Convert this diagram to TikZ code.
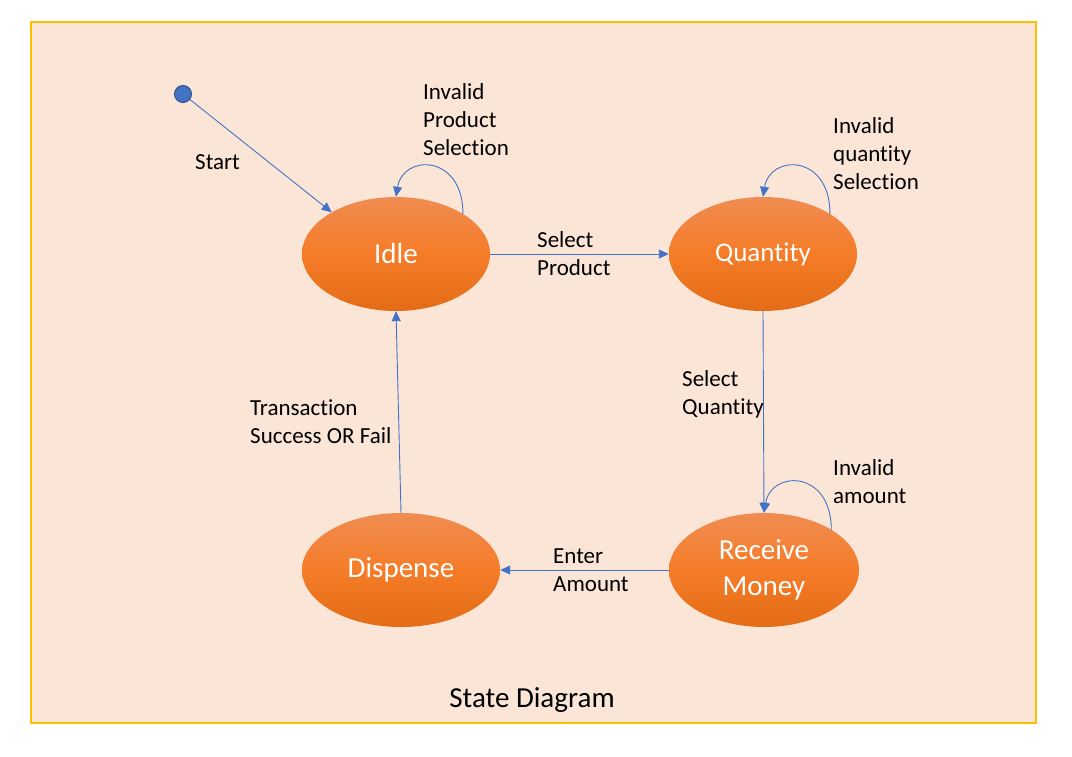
\documentclass[tikz,border=0pt]{standalone}
\usepackage{fontspec}
\setmainfont{Carlito}[Ligatures={NoCommon,NoDiscretionary,NoContextual}]
\usetikzlibrary{arrows.meta,shapes.geometric}
\definecolor{bgpeach}{RGB}{251,229,214}
\definecolor{framegold}{RGB}{255,192,0}
\definecolor{arrowblue}{RGB}{68,114,196}
\definecolor{darkblue}{RGB}{47,82,143}
\definecolor{ortop}{RGB}{240,140,82}
\definecolor{ormid}{RGB}{245,124,40}
\definecolor{orbot}{RGB}{228,108,22}
\tikzset{
  statenode/.style={ellipse, inner sep=0pt, minimum height=114pt,
    top color=ortop, bottom color=orbot, middle color=ormid,
    text=white, font=\fontsize{29}{36}\selectfont, align=center},
  lbl/.style={anchor=west, inner sep=0pt, align=left, text=black,
    font=\fontsize{23}{28}\selectfont},
  conn/.style={draw=arrowblue, line width=0.9pt, -{Triangle[length=10pt,width=9pt]}}
}
\begin{document}
\begin{tikzpicture}[x=1pt,y=-1pt]
\useasboundingbox (0,0) rectangle (1072,756);
\fill[white] (0,0) rectangle (1072,756);
\draw[fill=bgpeach, draw=framegold, line width=1.2pt] (31,22) rectangle (1036,723);

\node[circle, fill=arrowblue, draw=darkblue, line width=1pt, minimum size=17pt, inner sep=0pt] (start) at (183,94) {};
\node[statenode, minimum width=188pt] (idle) at (396,254) {Idle};
\node[statenode, minimum width=188pt, font=\fontsize{27}{36}\selectfont] (qty) at (763,254) {Quantity};
\node[statenode, minimum width=190pt] (recv) at (764,570) {Receive\\Money};
\node[statenode, minimum width=198pt] (disp) at (401,570) {Dispense};

\draw[conn] (start) -- (idle.147);
\draw[conn] (idle.31) .. controls +(0,-60) and +(7,-43) .. (idle.north);
\draw[conn] (idle.east) -- (qty.west);
\draw[conn] (qty.31) .. controls +(0,-60) and +(7,-43) .. (qty.north);
\draw[conn] (qty.south) -- (recv.north);
\draw[conn] (recv.31) .. controls +(0,-60) and +(7,-43) .. (recv.north);
\draw[conn] (recv.west) -- (disp.east);
\draw[conn] (disp.north) -- (idle.south);

\node[lbl] (lstart) at (195,162) {Start};
\node[lbl] (linvp) at (423,120) {Invalid\\Product\\Selection};
\node[lbl] (lselp) at (537,254) {Select\\Product};
\node[lbl] (linvq) at (833,154) {Invalid\\quantity\\Selection};
\node[lbl] (lselq) at (682,394) {Select\\Quantity};
\node[lbl] (linva) at (833,482) {Invalid\\amount};
\node[lbl] (ltrans) at (250,422) {Transaction\\Success OR Fail};
\node[lbl] (lenter) at (553,570) {Enter\\Amount};
\node[font=\fontsize{29}{34}\selectfont, inner sep=0pt] (title) at (532,700) {State Diagram};
\end{tikzpicture}
\end{document}
